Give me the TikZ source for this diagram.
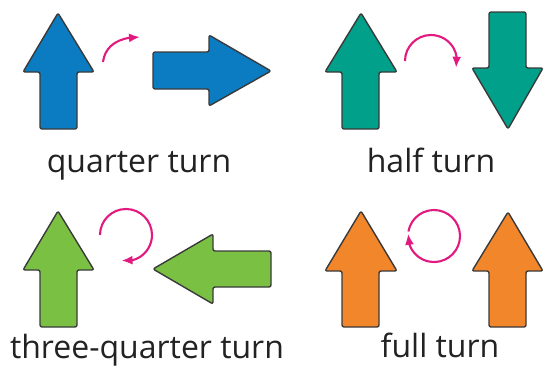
\documentclass[tikz,border=0pt]{standalone}
\usepackage{fontspec}
\setmainfont{Open Sans}
\usetikzlibrary{arrows.meta,bending}
\definecolor{cblue}{HTML}{0B7CC1}
\definecolor{cteal}{HTML}{00A08A}
\definecolor{cgreen}{HTML}{7AC143}
\definecolor{corange}{HTML}{F2862B}
\definecolor{cpink}{HTML}{E2197E}
\definecolor{cline}{HTML}{3A3A3A}
\definecolor{ctext}{HTML}{222222}
\tikzset{
  shapearrow/.style={draw=cline, line width=1.4pt, rounded corners=2pt, line join=round},
  turnarc/.style={draw=cpink, line width=2.1pt, -{Latex[length=11pt,width=9pt,flex]}},
  label/.style={anchor=base, text=ctext, font=\fontsize{32}{36}\selectfont, inner sep=0pt}
}
\begin{document}
\begin{tikzpicture}[x=1pt,y=-1pt]
\useasboundingbox (0,0) rectangle (546,367);
% quarter turn
\path[shapearrow, fill=cblue] (58,13) -- (94,72) -- (77,72) -- (77,129) -- (40,129) -- (40,72) -- (23,72) -- cycle;
\path[shapearrow, fill=cblue] (153,52) -- (209,52) -- (209,35) -- (271,71) -- (209,106) -- (209,89) -- (153,89) -- cycle;
\draw[turnarc] (103,62) .. controls (105,46) and (118,37) .. (140,37);
\node[label] (q) at (139,172) {quarter turn};
% half turn
\path[shapearrow, fill=cteal] (361,13) -- (397,72) -- (379,72) -- (379,129) -- (342,129) -- (342,72) -- (325,72) -- cycle;
\path[shapearrow, fill=cteal] (489,12) -- (526,12) -- (526,68) -- (543,68) -- (508,129) -- (472,68) -- (489,68) -- cycle;
\draw[turnarc] (405,61) arc[start angle=180, end angle=375, radius=26];
\node[label] (h) at (431,172) {half turn};
% three-quarter turn
\path[shapearrow, fill=cgreen] (58,211) -- (94,270) -- (77,270) -- (77,327) -- (40,327) -- (40,270) -- (23,270) -- cycle;
\path[shapearrow, fill=cgreen] (153,269) -- (213,234) -- (213,251) -- (271,251) -- (271,287) -- (213,287) -- (213,304) -- cycle;
\draw[turnarc] (100,235) arc[start angle=180, end angle=460, radius=26];
\node[label] (t) at (147,358) {three-quarter turn};
% full turn
\path[shapearrow, fill=corange] (361,211) -- (397,271) -- (379,271) -- (379,327) -- (342,327) -- (342,271) -- (325,271) -- cycle;
\path[shapearrow, fill=corange] (508,212) -- (543,271) -- (526,271) -- (526,327) -- (489,327) -- (489,271) -- (472,271) -- cycle;
\draw[turnarc] (408.4,231.5) arc[start angle=190, end angle=545, radius=26];
\node[label] (f) at (440,357) {full turn};
\end{tikzpicture}
\end{document}
